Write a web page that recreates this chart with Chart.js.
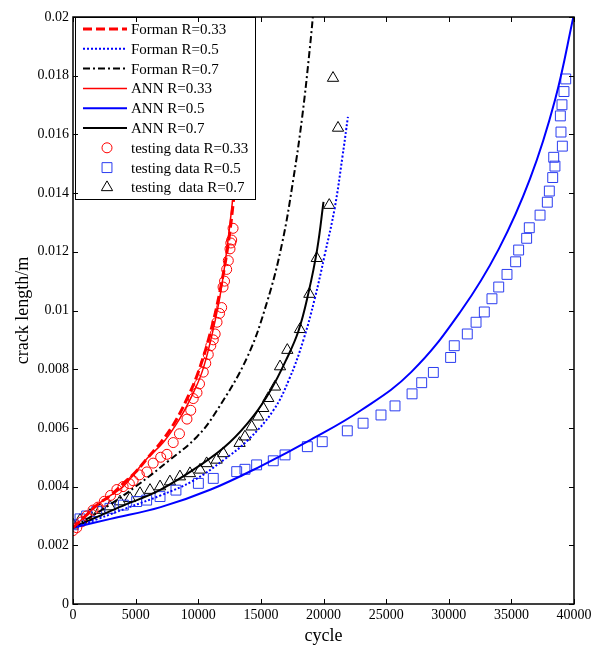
<!DOCTYPE html>
<html>
<head>
<meta charset="utf-8">
<script src="https://cdn.jsdelivr.net/npm/chart.js@4/dist/chart.umd.min.js"></script>
<style>
  html, body { margin: 0; padding: 0; background: #fff; }
  #wrap { width: 592px; height: 645px; }
</style>
</head>
<body>
<div id="wrap"><canvas id="myChart" width="592" height="645"></canvas></div>
<script>
// tick values
const xTicks = [0, 5000, 10000, 15000, 20000, 25000, 30000, 35000, 40000];
const yTicks = [0, 0.002, 0.004, 0.006, 0.008, 0.01, 0.012, 0.014, 0.016, 0.018, 0.02];

// Forman curves
const formanR033Cycle = [0, 1000, 2000, 3000, 4000, 5000, 6000, 7000, 8000, 9000, 10000, 11000, 11800, 12400, 12800, 13100];
const formanR033Len = [0.0026, 0.0030, 0.0034, 0.0037, 0.0041, 0.0045, 0.0050, 0.0055, 0.0061, 0.0069, 0.0079, 0.0093, 0.0108, 0.0123, 0.0137, 0.0150];
const formanR05Cycle = [0, 2000, 4500, 7000, 9600, 12000, 14000, 16000, 17300, 18400, 19300, 20100, 20900, 21500, 21950];
const formanR05Len = [0.0026, 0.0029, 0.0033, 0.0037, 0.0042, 0.0049, 0.0056, 0.0066, 0.0077, 0.0090, 0.0104, 0.0119, 0.0135, 0.0152, 0.0166];
const formanR07Cycle = [0, 3000, 5000, 7700, 9900, 11500, 13900, 15500, 16700, 17600, 18300, 18900, 19300];
const formanR07Len = [0.0026, 0.0034, 0.0040, 0.0049, 0.0057, 0.0066, 0.0084, 0.0103, 0.0123, 0.0145, 0.0166, 0.0189, 0.0207];

// ANN curves
const annR033Cycle = [0, 1000, 2000, 3000, 4000, 5000, 6000, 7200, 8500, 9500, 10300, 11000, 11700, 12200, 12700, 13000];
const annR033Len = [0.0026, 0.0030, 0.0034, 0.0037, 0.0040, 0.0045, 0.0050, 0.0055, 0.0063, 0.0071, 0.0079, 0.0090, 0.0104, 0.0118, 0.0136, 0.0150];
const annR05Cycle = [0, 3000, 7000, 11000, 15000, 19000, 23000, 27000, 31000, 34000, 36500, 38500, 40000];
const annR05Len = [0.0026, 0.0029, 0.0033, 0.0039, 0.0047, 0.0056, 0.0066, 0.0079, 0.0100, 0.0121, 0.0145, 0.0172, 0.0201];
const annR07Cycle = [0, 3700, 7000, 10400, 12500, 14400, 15800, 17000, 18000, 18800, 19500, 20000];
const annR07Len = [0.0026, 0.0033, 0.0039, 0.0048, 0.0055, 0.0064, 0.0073, 0.0083, 0.0093, 0.0106, 0.0121, 0.0137];

// testing data
const testR033Cycle = [0, 300, 700, 1100, 1600, 2000, 2500, 3000, 3500, 4000, 4500, 4800, 5300, 5900, 6400, 7000, 7500, 8000, 8500, 9100, 9400, 9600, 9900, 10100, 10400, 10600, 10800, 11000, 11200, 11350, 11500, 11700, 11870, 11980, 12100, 12270, 12400, 12535, 12600, 12670, 12780];
const testR033Len = [0.0025, 0.0026, 0.0028, 0.0030, 0.0032, 0.0033, 0.0035, 0.0037, 0.0039, 0.0040, 0.0041, 0.0042, 0.0044, 0.0045, 0.0048, 0.0050, 0.0051, 0.0055, 0.0058, 0.0063, 0.0066, 0.0070, 0.0072, 0.0075, 0.0079, 0.0082, 0.0085, 0.0088, 0.0090, 0.0092, 0.0096, 0.0099, 0.0101, 0.0108, 0.0110, 0.0114, 0.0117, 0.0121, 0.0123, 0.0124, 0.0128];
const testR05Cycle = [30, 560, 1090, 1890, 2950, 4020, 5080, 5880, 6950, 8220, 10010, 11200, 13070, 13730, 14660, 15990, 16930, 18710, 19900, 21900, 23160, 24590, 25710, 27070, 27840, 28770, 30150, 30440, 31480, 32180, 32840, 33450, 33990, 34650, 35340, 35580, 36220, 36430, 37290, 37870, 38030, 38300, 38480, 38380, 39070, 38960, 38910, 39040, 39200, 39340];
const testR05Len = [0.0027, 0.0029, 0.0030, 0.00315, 0.00326, 0.00337, 0.00349, 0.00354, 0.00366, 0.00388, 0.00411, 0.00428, 0.00451, 0.00459, 0.00474, 0.00488, 0.00508, 0.00536, 0.00553, 0.0059, 0.00616, 0.00644, 0.00675, 0.00716, 0.00754, 0.00789, 0.0084, 0.0088, 0.0092, 0.0096, 0.00995, 0.0104, 0.0108, 0.01123, 0.01166, 0.01206, 0.01246, 0.01282, 0.01325, 0.01369, 0.01407, 0.01453, 0.01492, 0.01522, 0.0156, 0.01608, 0.01663, 0.01701, 0.01746, 0.01789];
const testR07Cycle = [0, 560, 1360, 2160, 2950, 3750, 4550, 5350, 6150, 6950, 7740, 8540, 9340, 10140, 10670, 11470, 12000, 13300, 13730, 14270, 14790, 15190, 15590, 16130, 16530, 17110, 18120, 18870, 19460, 20460, 21160, 20760];
const testR07Len = [0.0027, 0.00286, 0.00303, 0.0032, 0.00332, 0.00349, 0.0036, 0.00377, 0.00388, 0.004, 0.00417, 0.00434, 0.00445, 0.00457, 0.00479, 0.00491, 0.00513, 0.00548, 0.0057, 0.00604, 0.00638, 0.00667, 0.00701, 0.0074, 0.00809, 0.00865, 0.00936, 0.01056, 0.01178, 0.01359, 0.01622, 0.01792];

function pts(xs, ys) {
  return xs.map((x, i) => ({ x: x, y: ys[i] }));
}

function curve(label, xs, ys, color, width, dash) {
  return {
    label: label, data: pts(xs, ys), borderColor: color, borderWidth: width,
    borderDash: dash, pointRadius: 0, fill: false, showLine: true, tension: 0.4
  };
}

function marks(label, xs, ys, color, style, r) {
  return {
    label: label, data: pts(xs, ys), showLine: false, borderColor: color,
    backgroundColor: 'rgba(0,0,0,0)', pointStyle: style, pointRadius: r,
    pointBorderWidth: 1, pointHoverRadius: r
  };
}

const datasets = [
  curve('Forman R=0.33', formanR033Cycle, formanR033Len, '#ff0000', 3, [9, 4]),
  curve('Forman R=0.5', formanR05Cycle, formanR05Len, '#0000ff', 2, [2, 2]),
  curve('Forman R=0.7', formanR07Cycle, formanR07Len, '#000000', 2, [7, 3, 2, 3]),
  curve('ANN R=0.33', annR033Cycle, annR033Len, '#ff0000', 1.5, []),
  curve('ANN R=0.5', annR05Cycle, annR05Len, '#0000ff', 2, []),
  curve('ANN R=0.7', annR07Cycle, annR07Len, '#000000', 2, []),
  marks('testing data R=0.33', testR033Cycle, testR033Len, '#ff0000', 'circle', 5),
  marks('testing data R=0.5', testR05Cycle, testR05Len, '#2a3cf0', 'rect', 7),
  marks('testing  data R=0.7', testR07Cycle, testR07Len, '#000000', 'triangle', 6.5)
];

const serif = "'Liberation Serif', 'Times New Roman', serif";

// frame with inward ticks, like the original figure
const framePlugin = {
  id: 'frame',
  afterDraw(chart) {
    const ctx = chart.ctx, a = chart.chartArea;
    const xs = chart.scales.x, ys = chart.scales.y;
    ctx.save();
    ctx.strokeStyle = '#000';
    ctx.lineWidth = 1;
    ctx.beginPath();
    xs.ticks.forEach(t => {
      const px = Math.round(xs.getPixelForValue(t.value)) + 0.5;
      ctx.moveTo(px, a.bottom); ctx.lineTo(px, a.bottom - 5);
      ctx.moveTo(px, a.top); ctx.lineTo(px, a.top + 5);
    });
    ys.ticks.forEach(t => {
      const py = Math.round(ys.getPixelForValue(t.value)) + 0.5;
      ctx.moveTo(a.left, py); ctx.lineTo(a.left + 5, py);
      ctx.moveTo(a.right, py); ctx.lineTo(a.right - 5, py);
    });
    ctx.stroke();
    ctx.lineWidth = 1.5;
    ctx.strokeRect(a.left, a.top, a.right - a.left, a.bottom - a.top);
    ctx.restore();
  }
};

// legend box inside the plot, top left
const boxLegend = {
  id: 'boxLegend',
  afterDatasetsDraw(chart) {
    const ctx = chart.ctx, a = chart.chartArea;
    const x0 = a.left + 2, y0 = a.top, w = 180, h = 182;
    ctx.save();
    ctx.fillStyle = '#fff';
    ctx.fillRect(x0, y0, w, h);
    ctx.strokeStyle = '#000';
    ctx.lineWidth = 1;
    ctx.strokeRect(x0 + 0.5, y0 + 0.5, w, h);
    ctx.font = '15px ' + serif;
    ctx.textBaseline = 'middle';
    chart.data.datasets.forEach((ds, i) => {
      const y = y0 + 12 + i * 19.8;
      if (ds.showLine) {
        ctx.strokeStyle = ds.borderColor;
        ctx.lineWidth = ds.borderWidth;
        ctx.setLineDash(ds.borderDash || []);
        ctx.beginPath();
        ctx.moveTo(x0 + 8, y); ctx.lineTo(x0 + 52, y);
        ctx.stroke();
        ctx.setLineDash([]);
      } else {
        ctx.fillStyle = 'rgba(0,0,0,0)';
        ctx.strokeStyle = ds.borderColor;
        ctx.lineWidth = 1;
        Chart.helpers.drawPoint(ctx, {
          pointStyle: ds.pointStyle, radius: ds.pointRadius, borderWidth: 1, rotation: 0
        }, x0 + 32, y);
      }
      ctx.fillStyle = '#000';
      ctx.fillText(ds.label, x0 + 56, y + 1);
    });
    ctx.restore();
  }
};

new Chart(document.getElementById('myChart'), {
  type: 'line',
  data: { datasets: datasets },
  plugins: [framePlugin, boxLegend],
  options: {
    responsive: false,
    animation: false,
    layout: { padding: { left: 0, right: 18, top: 17, bottom: 0 } },
    plugins: { legend: { display: false }, tooltip: { enabled: false } },
    scales: {
      x: {
        type: 'linear', min: 0, max: 40000,
        afterBuildTicks: (s) => { s.ticks = xTicks.map(v => ({ value: v })); },
        afterFit: (s) => { s.height = 41; s.paddingRight = 0; s.paddingLeft = 0; },
        grid: { display: false, tickLength: 0 },
        border: { display: false },
        ticks: { color: '#000', font: { family: serif, size: 14 }, padding: 3, maxRotation: 0,
          callback: (v) => String(v) },
        title: { display: true, text: 'cycle', color: '#000', font: { family: serif, size: 18 }, padding: { top: 0, bottom: -2 } }
      },
      y: {
        type: 'linear', min: 0, max: 0.02,
        afterBuildTicks: (s) => { s.ticks = yTicks.map(v => ({ value: v })); },
        afterFit: (s) => { s.width = 73; s.paddingTop = 0; s.paddingBottom = 0; },
        grid: { display: false, tickLength: 0 },
        border: { display: false },
        ticks: { color: '#000', font: { family: serif, size: 14 }, padding: 4,
          callback: (v) => String(+v.toFixed(3)) },
        title: { display: true, text: 'crack length/m', color: '#000', font: { family: serif, size: 18 }, padding: { top: 12, bottom: 0 } }
      }
    }
  }
});
</script>
</body>
</html>
